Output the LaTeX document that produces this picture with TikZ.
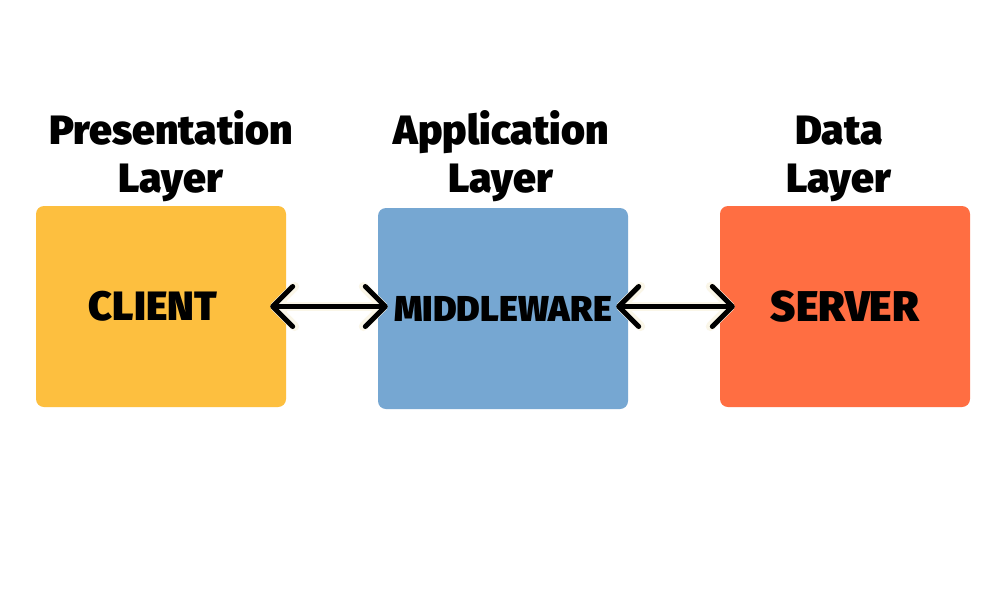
\documentclass[tikz,border=0pt]{standalone}
\usepackage{fontspec}
\setmainfont{Fira Sans}[BoldFont={Fira Sans Black}]
\usetikzlibrary{arrows.meta}
\definecolor{cyel}{HTML}{FDBF3F}
\definecolor{cblu}{HTML}{76A7D2}
\definecolor{cred}{HTML}{FF6E42}
\definecolor{halo}{HTML}{FAF6E8}
\tikzset{barb/.tip={Straight Barb[length=20pt,width=40pt,round]}}
\begin{document}
\begin{tikzpicture}[x=1pt,y=-1pt,
  box/.style={rounded corners=8pt,minimum width=250pt,minimum height=201pt,inner sep=0pt,font=\bfseries},
  title/.style={font=\bfseries\fontsize{41}{48}\selectfont,align=center},
  conn/.style={line width=5pt,black,barb-barb,
    preaction={draw=halo,line width=9pt,barb-barb}}
]
\useasboundingbox (0,0) rectangle (1000,600);
\fill[white] (0,0) rectangle (1000,600);
\node[box,fill=cyel] (client) at (161,306.5) {\fontsize{41}{48}\selectfont CLIENT\kern16pt\relax};
\node[box,fill=cblu] (mid) at (503,308.5) {\fontsize{36}{42}\selectfont MIDDLEWARE};
\node[box,fill=cred] (server) at (845,306.5) {\fontsize{43}{50}\selectfont SERVER};
\node[title] (t1) at (171,156) {Presentation\\Layer};
\node[title] (t2) at (501,156) {Application\\Layer};
\node[title] (t3) at (839,159) {Data\\Layer};
\draw[conn] ([xshift=-16pt]client.east) -- ([xshift=10pt]mid.west |- client.east);
\draw[conn] ([xshift=-12pt]mid.east |- server.east) -- ([xshift=15pt]server.west);
\end{tikzpicture}
\end{document}
